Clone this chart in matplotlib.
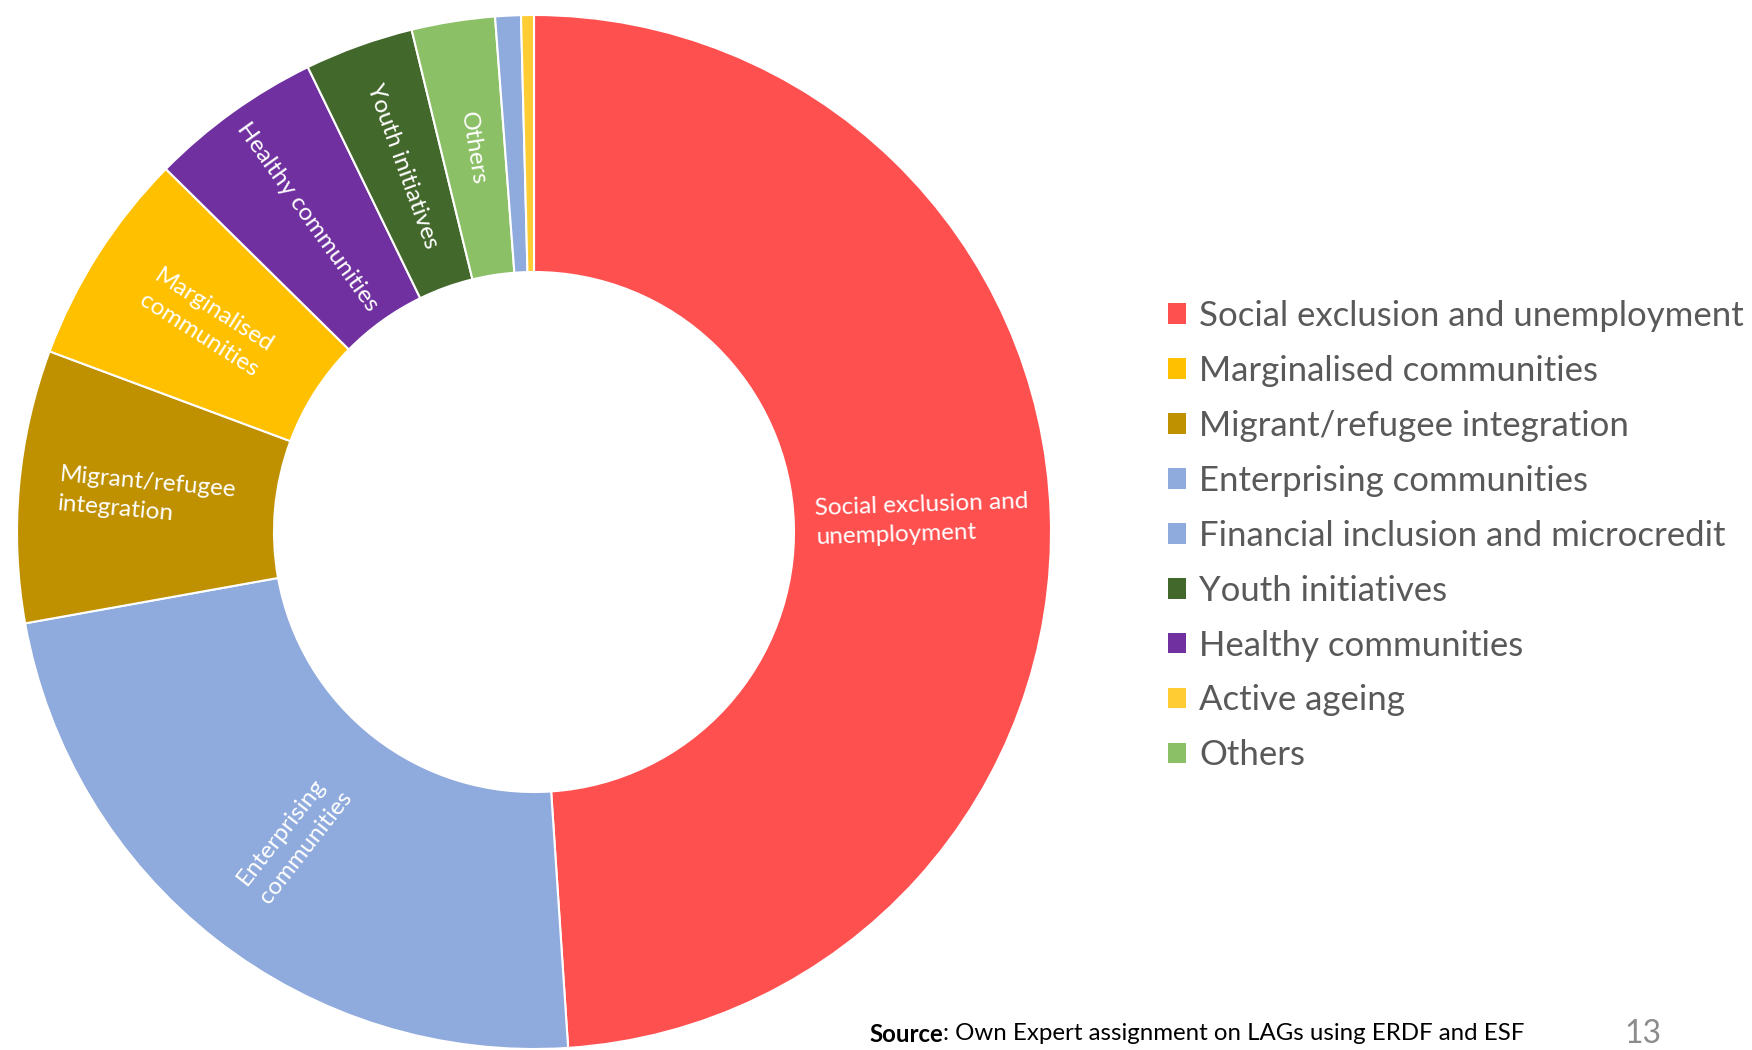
import math
import matplotlib
matplotlib.use("Agg")
import matplotlib.pyplot as plt
from matplotlib.patches import Patch

plt.rcParams['font.family'] = ['Lato', 'DejaVu Sans']

# slices in the order they run clockwise from 12 o'clock
categories = ["Social exclusion and unemployment", "Enterprising communities",
              "Migrant/refugee integration", "Marginalised communities",
              "Healthy communities", "Youth initiatives", "Others",
              "Financial inclusion and microcredit", "Active ageing"]
shares = [48.9, 23.2, 8.5, 6.7, 5.4, 3.4, 2.6, 0.8, 0.4]
colors = ["#FF5050", "#8FAADC", "#BF9000", "#FFC000", "#7030A0",
          "#43682B", "#8CC067", "#8FAADC", "#FFCC33"]
slice_labels = ["Social exclusion and\nunemployment", "Enterprising\ncommunities",
                "Migrant/refugee\nintegration", "Marginalised\ncommunities",
                "Healthy communities", "Youth initiatives", "Others", "", ""]

# legend order as shown in the original
legend_order = ["Social exclusion and unemployment", "Marginalised communities",
                "Migrant/refugee integration", "Enterprising communities",
                "Financial inclusion and microcredit", "Youth initiatives",
                "Healthy communities", "Active ageing", "Others"]

W, H = 1752, 1050
fig = plt.figure(figsize=(W / 100, H / 100), dpi=100)
ax = fig.add_axes([0, 0, 1, 1])

cx, cy = 534, H - 532
R = 517
ring = 257
wedges, _ = ax.pie(shares, colors=colors, radius=R, center=(cx, cy),
                   startangle=90, counterclock=False,
                   wedgeprops=dict(width=ring, edgecolor="white", linewidth=1.5))
ax.set_xlim(0, W)
ax.set_ylim(0, H)
ax.set_aspect("equal")
ax.axis("off")

# labels inside the ring, turned along the radius
rm = R - ring / 2
for w, lab in zip(wedges, slice_labels):
    if not lab:
        continue
    mid = (w.theta1 + w.theta2) / 2
    x = cx + rm * math.cos(math.radians(mid))
    y = cy + rm * math.sin(math.radians(mid))
    rot = mid % 180
    if rot > 90:
        rot -= 180
    ax.text(x, y, lab, ha="center", va="center", rotation=rot,
            rotation_mode="anchor", multialignment="left",
            linespacing=1.45, color="white", fontsize=17.5)

handles = [Patch(facecolor=colors[categories.index(c)]) for c in legend_order]
fig.legend(handles, legend_order, loc="upper left",
           bbox_to_anchor=(1168 / W, 1 - 300 / H), frameon=False,
           fontsize=25, labelcolor="#595959", handlelength=0.53,
           handleheight=0.53, handletextpad=0.37, labelspacing=0.66,
           borderpad=0, borderaxespad=0)

# source line
sy = 1 - 1034 / H
src = fig.text(869 / W, sy, "Source", fontsize=17.3,
               fontweight="bold", color="black", va="center")
fig.canvas.draw()
bb = src.get_window_extent()
fig.text(bb.x1 / W, sy, ": Own Expert assignment on LAGs using ERDF and ESF",
         fontsize=17.3, color="black", va="center")
fig.text(1643 / W, sy, "13", fontsize=23, color="#8C8C8C",
         ha="center", va="center")

fig.savefig("out.png", dpi=100)
